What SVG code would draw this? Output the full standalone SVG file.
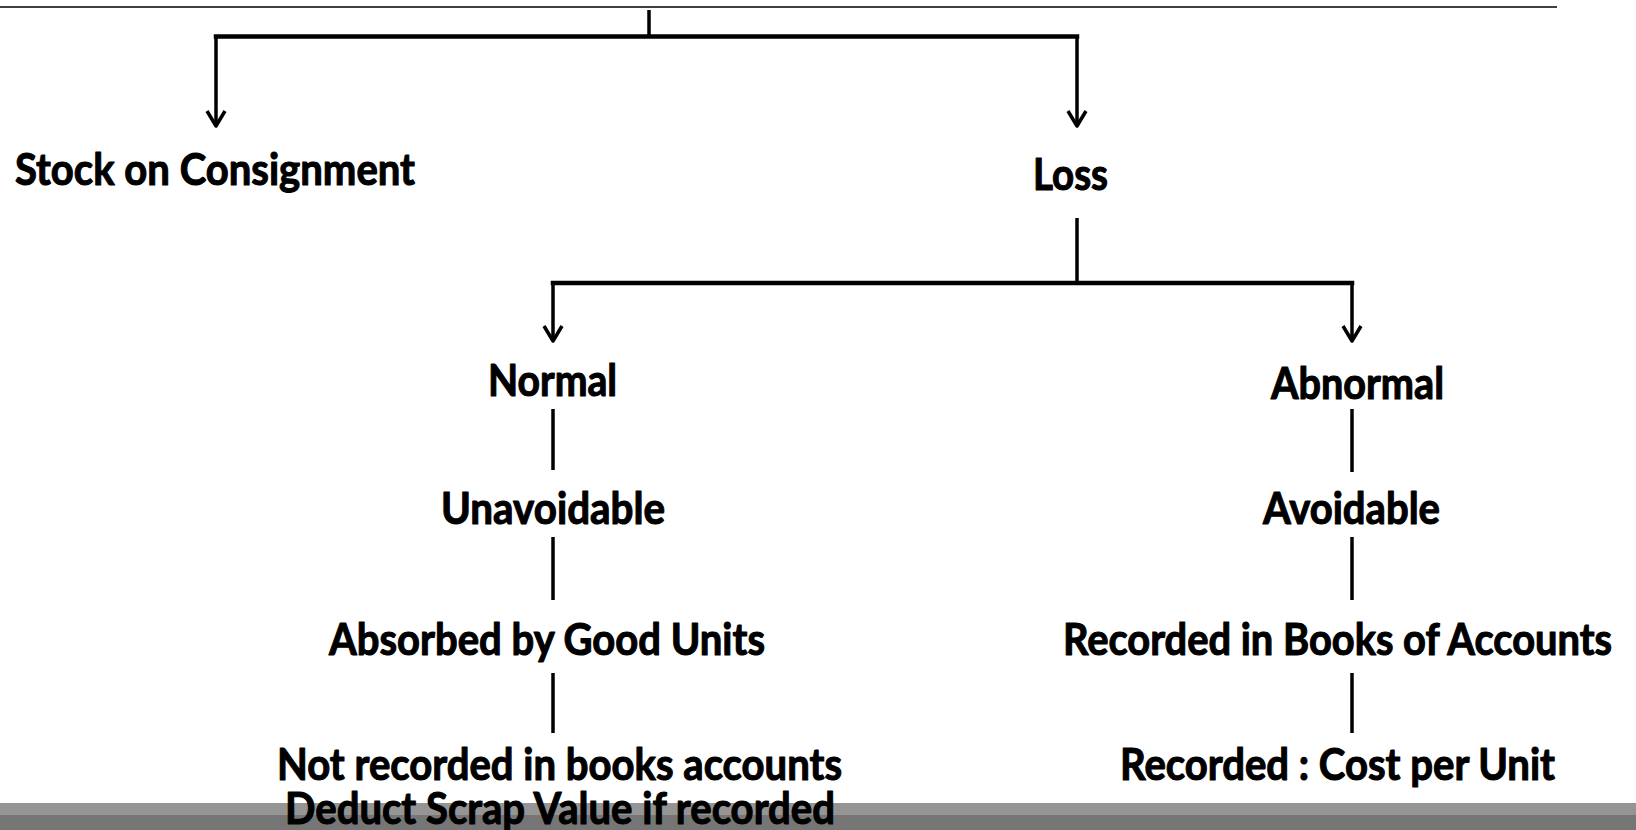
<svg xmlns="http://www.w3.org/2000/svg" width="1636" height="830" viewBox="0 0 1636 830">
  <style>
    .lbl { font-family: "Lato", "Carlito", "Liberation Sans", sans-serif; font-weight: 700; font-size: 44px; fill: #000; stroke: #000; stroke-width: 1.1; stroke-linejoin: round; }
    .wire { stroke: #000; stroke-width: 3.5; fill: none; stroke-linecap: butt; }
    .bar { stroke: #000; stroke-width: 4.5; fill: none; stroke-linecap: square; }
  </style>
  <defs>
    <marker id="vhead" markerUnits="userSpaceOnUse" viewBox="-20 -12 24 24" markerWidth="24" markerHeight="24" refX="0" refY="0" orient="auto">
      <path d="M-15,-9 L0,0 L-15,9" fill="none" stroke="#000" stroke-width="3.5" stroke-linejoin="round"/>
    </marker>
  </defs>

  <rect x="0" y="0" width="1636" height="830" fill="#fff"/>

  <!-- footer band -->
  <rect x="0" y="803" width="1636" height="12" fill="#959595"/>
  <rect x="0" y="815" width="1636" height="15" fill="#767676"/>

  <!-- header rule -->
  <line x1="0" y1="7" x2="1557" y2="7" stroke="#000" stroke-width="1.6"/>

  <g id="connectors">
    <!-- root split -->
    <line class="wire" x1="649" y1="10" x2="649" y2="36"/>
    <line class="bar" x1="216" y1="36.5" x2="1077" y2="36.5"/>
    <line class="wire" x1="216" y1="36" x2="216" y2="126" marker-end="url(#vhead)"/>
    <line class="wire" x1="1077" y1="36" x2="1077" y2="126" marker-end="url(#vhead)"/>

    <!-- loss split -->
    <line class="wire" x1="1077" y1="218" x2="1077" y2="283"/>
    <line class="bar" x1="553" y1="283" x2="1352" y2="283"/>
    <line class="wire" x1="553" y1="283" x2="553" y2="341" marker-end="url(#vhead)"/>
    <line class="wire" x1="1352" y1="283" x2="1352" y2="341" marker-end="url(#vhead)"/>

    <!-- normal chain -->
    <line class="wire" x1="553" y1="409" x2="553" y2="470"/>
    <line class="wire" x1="553" y1="537" x2="553" y2="600"/>
    <line class="wire" x1="553" y1="673" x2="553" y2="733"/>

    <!-- abnormal chain -->
    <line class="wire" x1="1352" y1="409" x2="1352" y2="472"/>
    <line class="wire" x1="1352" y1="537" x2="1352" y2="600"/>
    <line class="wire" x1="1352" y1="673" x2="1352" y2="733"/>
  </g>

  <g id="stock">
    <text class="lbl" x="15" y="185" textLength="400" lengthAdjust="spacingAndGlyphs">Stock on Consignment</text>
  </g>
  <g id="loss">
    <text class="lbl" x="1033" y="190" textLength="75" lengthAdjust="spacingAndGlyphs">Loss</text>
  </g>
  <g id="normal">
    <text class="lbl" x="488" y="396" textLength="129" lengthAdjust="spacingAndGlyphs">Normal</text>
  </g>
  <g id="abnormal">
    <text class="lbl" x="1271" y="399" textLength="173" lengthAdjust="spacingAndGlyphs">Abnormal</text>
  </g>
  <g id="unavoidable">
    <text class="lbl" x="441" y="524" textLength="224" lengthAdjust="spacingAndGlyphs">Unavoidable</text>
  </g>
  <g id="avoidable">
    <text class="lbl" x="1263" y="524" textLength="177" lengthAdjust="spacingAndGlyphs">Avoidable</text>
  </g>
  <g id="absorbed">
    <text class="lbl" x="329" y="655" textLength="436" lengthAdjust="spacingAndGlyphs">Absorbed by Good Units</text>
  </g>
  <g id="recorded-books">
    <text class="lbl" x="1063" y="655" textLength="549" lengthAdjust="spacingAndGlyphs">Recorded in Books of Accounts</text>
  </g>
  <g id="not-recorded">
    <text class="lbl" x="277" y="780" textLength="565" lengthAdjust="spacingAndGlyphs">Not recorded in books accounts</text>
    <text class="lbl" x="285" y="824" textLength="550" lengthAdjust="spacingAndGlyphs">Deduct Scrap Value if recorded</text>
  </g>
  <g id="cost-per-unit">
    <text class="lbl" x="1120" y="780" textLength="435" lengthAdjust="spacingAndGlyphs">Recorded : Cost per Unit</text>
  </g>
</svg>
